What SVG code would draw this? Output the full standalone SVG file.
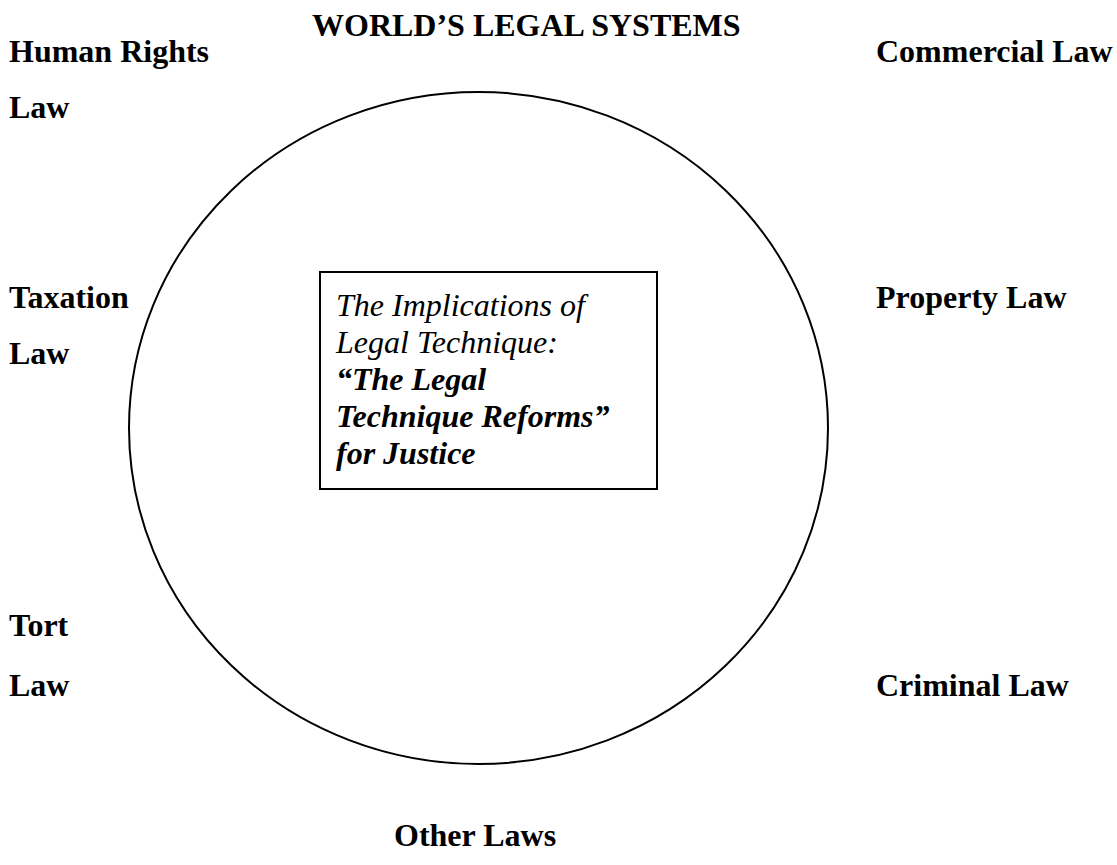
<svg xmlns="http://www.w3.org/2000/svg" width="1117" height="865" viewBox="0 0 1117 865">
  <style>
    .lbl { font-family: "Liberation Serif", "Times New Roman", serif; font-size: 32px; font-weight: bold; fill: #000; }
    .it { font-family: "Liberation Serif", "Times New Roman", serif; font-size: 32px; font-style: italic; fill: #000; }
    .itb { font-weight: bold; }
    .ring { fill: none; stroke: #000; stroke-width: 2; }
    .box { fill: #fff; stroke: #000; stroke-width: 2; }
  </style>
  <rect width="1117" height="865" fill="#fff"/>

  <!-- heading -->
  <text id="title" class="lbl" x="312" y="36">WORLD’S LEGAL SYSTEMS</text>

  <!-- surrounding circle of legal fields -->
  <g id="connectors">
    <ellipse class="ring" cx="478.5" cy="428" rx="349.5" ry="336"/>
  </g>

  <!-- branches of law around the circle -->
  <g id="human-rights-law">
    <text class="lbl" x="9" y="62">Human Rights</text>
    <text class="lbl" x="9" y="118">Law</text>
  </g>
  <g id="commercial-law">
    <text class="lbl" x="876" y="62">Commercial Law</text>
  </g>
  <g id="taxation-law">
    <text class="lbl" x="9" y="308">Taxation</text>
    <text class="lbl" x="9" y="364">Law</text>
  </g>
  <g id="property-law">
    <text class="lbl" x="876" y="308">Property Law</text>
  </g>
  <g id="tort-law">
    <text class="lbl" x="9" y="636">Tort</text>
    <text class="lbl" x="9" y="696">Law</text>
  </g>
  <g id="criminal-law">
    <text class="lbl" x="876" y="696">Criminal Law</text>
  </g>
  <g id="other-laws">
    <text class="lbl" x="394" y="846">Other Laws</text>
  </g>

  <!-- central box -->
  <g id="legal-technique">
    <rect class="box" x="320" y="272" width="337" height="217"/>
    <text class="it" x="336" y="316">The Implications of</text>
    <text class="it" x="336" y="353">Legal Technique:</text>
    <text class="it itb" x="336" y="390">“The Legal</text>
    <text class="it itb" x="336" y="427">Technique Reforms”</text>
    <text class="it itb" x="336" y="464">for Justice</text>
  </g>
</svg>
